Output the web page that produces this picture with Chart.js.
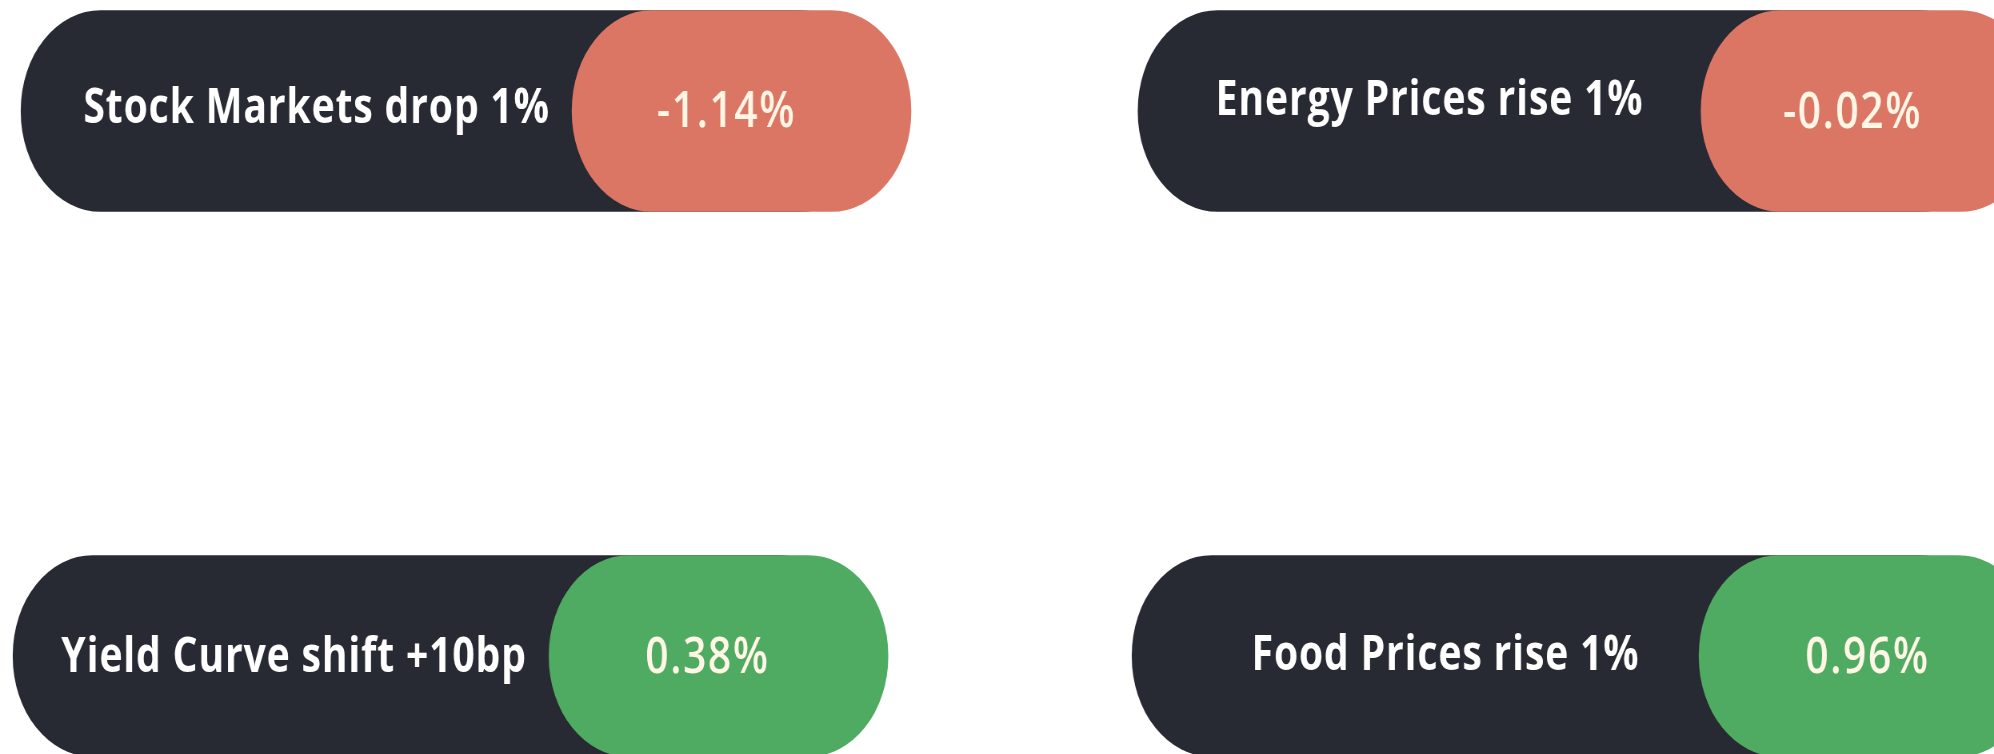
<!DOCTYPE html>
<html>
<head>
<meta charset="utf-8">
<title>Scenario impacts</title>
<style>
  html, body { margin: 0; padding: 0; background: #ffffff; width: 1994px; height: 754px; overflow: hidden; }
  #wrap { height: 754px; transform-origin: 0 0; }
  canvas { display: block; }
</style>
<script src="https://cdn.jsdelivr.net/npm/chart.js@4.4.1/dist/chart.umd.min.js"></script>
</head>
<body>
<div id="wrap"><canvas id="c"></canvas></div>
<script>
// ---- data ----
const scenarios = ['Stock Markets drop 1%', 'Energy Prices rise 1%', 'Yield Curve shift +10bp', 'Food Prices rise 1%'];
const impacts = [-1.14, -0.02, 0.38, 0.96];           // portfolio impact, %
const rows = ['Row 1', 'Row 2'];                        // grid rows (category axis)
const leftColumn = [0, 2];                              // scenario index per row
const rightColumn = [1, 3];

// ---- layout (screen px along x) ----
const SQUISH = 0.8;
const W = 1994, H = 754;
const layout = {
  0: { dark: [21, 880],   pill: [572, 911],   labelDx: 20, labelDy: 12, valueDx: -15, valueDy: 16 },
  1: { dark: [1138, 2000], pill: [1701, 2040], labelDx: 10, labelDy: 4,  valueDx: -18, valueDy: 17 },
  2: { dark: [13, 860],   pill: [549, 888],   labelDx: 13, labelDy: 16, valueDx: -11, valueDy: 17 },
  3: { dark: [1132, 2000], pill: [1699, 2038], labelDx: 30, labelDy: 14, valueDx: -1,  valueDy: 17 }
};

const DARK = '#282a33';
const NEG = '#dc7664';
const POS = '#4faa62';
const colorFor = v => (v < 0 ? NEG : POS);
const fmt = v => v.toFixed(2) + '%';

const canvasW = Math.round(W / SQUISH);
const wrap = document.getElementById('wrap');
wrap.style.width = canvasW + 'px';
wrap.style.transform = 'scaleX(' + (W / canvasW) + ')';
const cv = document.getElementById('c');
cv.width = canvasW; cv.height = H;
cv.style.width = canvasW + 'px'; cv.style.height = H + 'px';

const barCommon = {
  barThickness: 201,
  borderRadius: 100,
  borderSkipped: false,
  borderWidth: 0,
  grouped: false,
  clip: false
};

const datasets = [
  Object.assign({ label: 'impact (left)',  data: leftColumn.map(i => layout[i].pill),
    backgroundColor: leftColumn.map(i => colorFor(impacts[i])) }, barCommon),
  Object.assign({ label: 'impact (right)', data: rightColumn.map(i => layout[i].pill),
    backgroundColor: rightColumn.map(i => colorFor(impacts[i])) }, barCommon),
  Object.assign({ label: 'scenario (left)',  data: leftColumn.map(i => layout[i].dark),
    backgroundColor: DARK }, barCommon),
  Object.assign({ label: 'scenario (right)', data: rightColumn.map(i => layout[i].dark),
    backgroundColor: DARK }, barCommon)
];

const textPlugin = {
  id: 'pillText',
  afterDatasetsDraw(chart) {
    const ctx = chart.ctx;
    const xs = chart.scales.x, ys = chart.scales.y;
    ctx.save();
    ctx.textAlign = 'center';
    ctx.textBaseline = 'alphabetic';
    [leftColumn, rightColumn].forEach(col => {
      col.forEach((si, r) => {
        const L = layout[si];
        const cy = ys.getPixelForValue(r);
        // scenario label
        const lx = xs.getPixelForValue((L.dark[0] + L.pill[0]) / 2 + L.labelDx);
        ctx.font = 'bold 49px "Open Sans", "Noto Sans", sans-serif';
        ctx.letterSpacing = '1px';
        ctx.fillStyle = '#ffffff';
        ctx.fillText(scenarios[si], lx, cy + L.labelDy);
        // impact value
        const vx = xs.getPixelForValue((L.pill[0] + L.pill[1]) / 2 + L.valueDx);
        ctx.font = '600 51px "Open Sans", "Noto Sans", sans-serif';
        ctx.letterSpacing = '2px';
        ctx.fillStyle = '#fff6e6';
        ctx.fillText(fmt(impacts[si]), vx, cy + L.valueDy);
      });
    });
    ctx.restore();
  }
};

function draw() {
  new Chart(cv, {
    type: 'bar',
    data: { labels: rows, datasets },
    options: {
      indexAxis: 'y',
      responsive: false,
      devicePixelRatio: 1,
      animation: false,
      events: [],
      layout: { padding: { left: 0, right: 0, top: 111, bottom: H - 656 } },
      plugins: { legend: { display: false }, tooltip: { enabled: false } },
      scales: {
        x: { type: 'linear', min: 0, max: W, display: false, grid: { display: false } },
        y: { type: 'category', offset: false, display: false, grid: { display: false } }
      }
    },
    plugins: [textPlugin]
  });
}

Promise.all([
  document.fonts.load('bold 49px "Open Sans"'),
  document.fonts.load('600 51px "Open Sans"')
]).then(draw, draw);
</script>
</body>
</html>
